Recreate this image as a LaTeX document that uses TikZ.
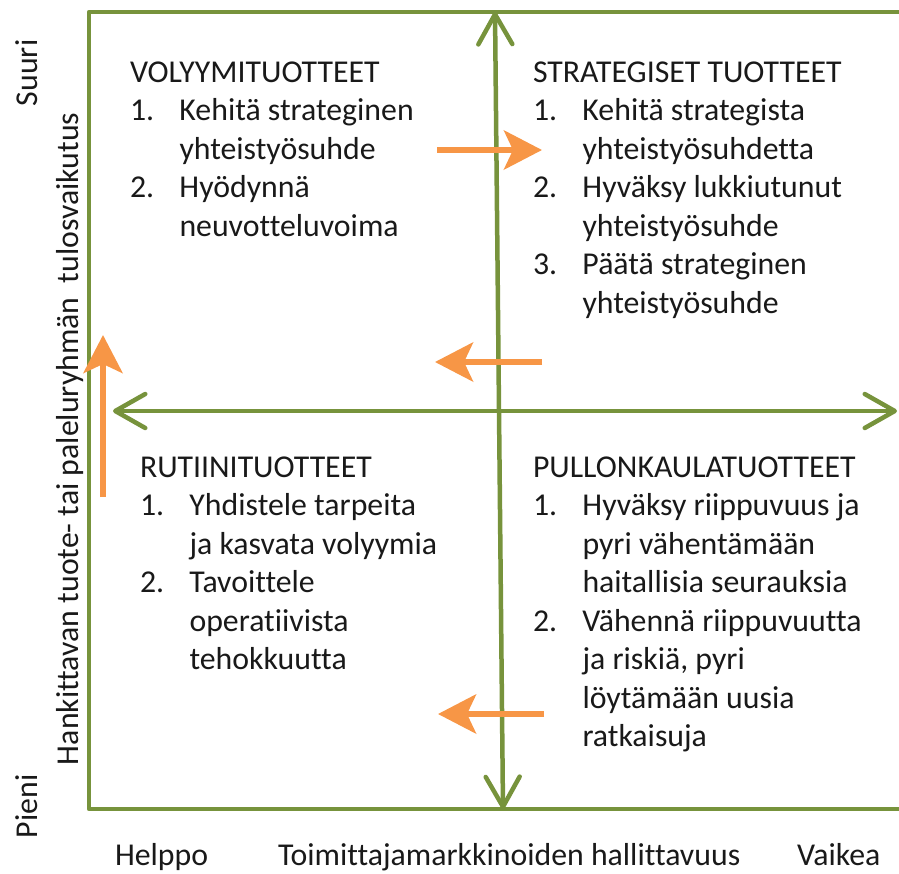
\documentclass[tikz,border=0pt]{standalone}
\usepackage{fontspec}
\setmainfont{Carlito}[Ligatures={NoCommon}]
\usepackage{array}
\usetikzlibrary{arrows.meta}
\definecolor{axisgreen}{HTML}{77933C}
\definecolor{moveorange}{HTML}{F79646}
\tikzset{
  txt/.style={anchor=base west, inner sep=0pt, outer sep=0pt,
    font=\fontsize{31.8}{38.5}\selectfont, text=black!90},
  vtxt/.style={txt, rotate=90},
  axisline/.style={draw=axisgreen, line width=4.5pt, line cap=round,
    {Straight Barb[length=30pt, width=34pt, line cap=round, line join=round]}-{Straight Barb[length=30pt, width=34pt, line cap=round, line join=round]}},
  frameline/.style={draw=axisgreen, line width=4.5pt, line join=round},
  movearrow/.style={draw=moveorange, line width=6pt,
    -{Stealth[length=38pt, width=39pt, inset=9pt]}}
}
\newcommand{\quadlist}[1]{\begin{tabular}[t]{@{}p{49.5pt}@{}l@{}}#1\end{tabular}}
\begin{document}
\begin{tikzpicture}[x=1pt, y=-1pt]
  \useasboundingbox (0,0) rectangle (899,873);

  % outer frame (open to the right)
  \draw[frameline] (899,12) -- (89,12) -- (89,809) -- (899,809);

  % axes
  \coordinate (vtop) at (495,12);
  \coordinate (vbot) at (503,809);
  \coordinate (hleft) at (113,411);
  \coordinate (hright) at (897,411);
  \draw[axisline] (vtop) -- (vbot);
  \draw[axisline] (hleft) -- (hright);

  % movement arrows
  \coordinate (m1a) at (437,150);  \coordinate (m1b) at (542,150);
  \coordinate (m2a) at (542,362);  \coordinate (m2b) at (435,362);
  \coordinate (m3a) at (544,714);  \coordinate (m3b) at (438,714);
  \coordinate (m4a) at (103,497);  \coordinate (m4b) at (103,335);
  \draw[movearrow] (m1a) -- (m1b);
  \draw[movearrow] (m2a) -- (m2b);
  \draw[movearrow] (m3a) -- (m3b);
  \draw[movearrow] (m4a) -- (m4b);

  % quadrant texts
  \node[txt] (volyymi) at (130,82) {\quadlist{%
    \multicolumn{2}{@{}l@{}}{VOLYYMITUOTTEET}\\
    1. & Kehitä strateginen\\
       & yhteistyösuhde\\
    2. & Hyödynnä\\
       & neuvotteluvoima}};
  \node[txt] (strateg) at (533,82) {\quadlist{%
    \multicolumn{2}{@{}l@{}}{STRATEGISET TUOTTEET}\\
    1. & Kehitä strategista\\
       & yhteistyösuhdetta\\
    2. & Hyväksy lukkiutunut\\
       & yhteistyösuhde\\
    3. & Päätä strateginen\\
       & yhteistyösuhde}};
  \node[txt] (rutiini) at (140,477) {\quadlist{%
    \multicolumn{2}{@{}l@{}}{RUTIINITUOTTEET}\\
    1. & Yhdistele tarpeita\\
       & ja kasvata volyymia\\
    2. & Tavoittele\\
       & operatiivista\\
       & tehokkuutta}};
  \node[txt] (pullon) at (533,477) {\quadlist{%
    \multicolumn{2}{@{}l@{}}{PULLONKAULATUOTTEET}\\
    1. & Hyväksy riippuvuus ja\\
       & pyri vähentämään\\
       & haitallisia seurauksia\\
    2. & Vähennä riippuvuutta\\
       & ja riskiä, pyri\\
       & löytämään uusia\\
       & ratkaisuja}};

  % axis labels
  \node[vtxt] (suuri) at (37,106) {Suuri};
  \node[vtxt] (pieni) at (37,838) {Pieni};
  \node[vtxt] (yaxis) at (78,765) {Hankittavan tuote- tai paleluryhmän\ \ tulosvaikutus};
  \node[txt] (helppo) at (115,865) {Helppo};
  \node[txt] (xaxis) at (278,865) {Toimittajamarkkinoiden hallittavuus};
  \node[txt] (vaikea) at (797,865) {Vaikea};
\end{tikzpicture}
\end{document}
